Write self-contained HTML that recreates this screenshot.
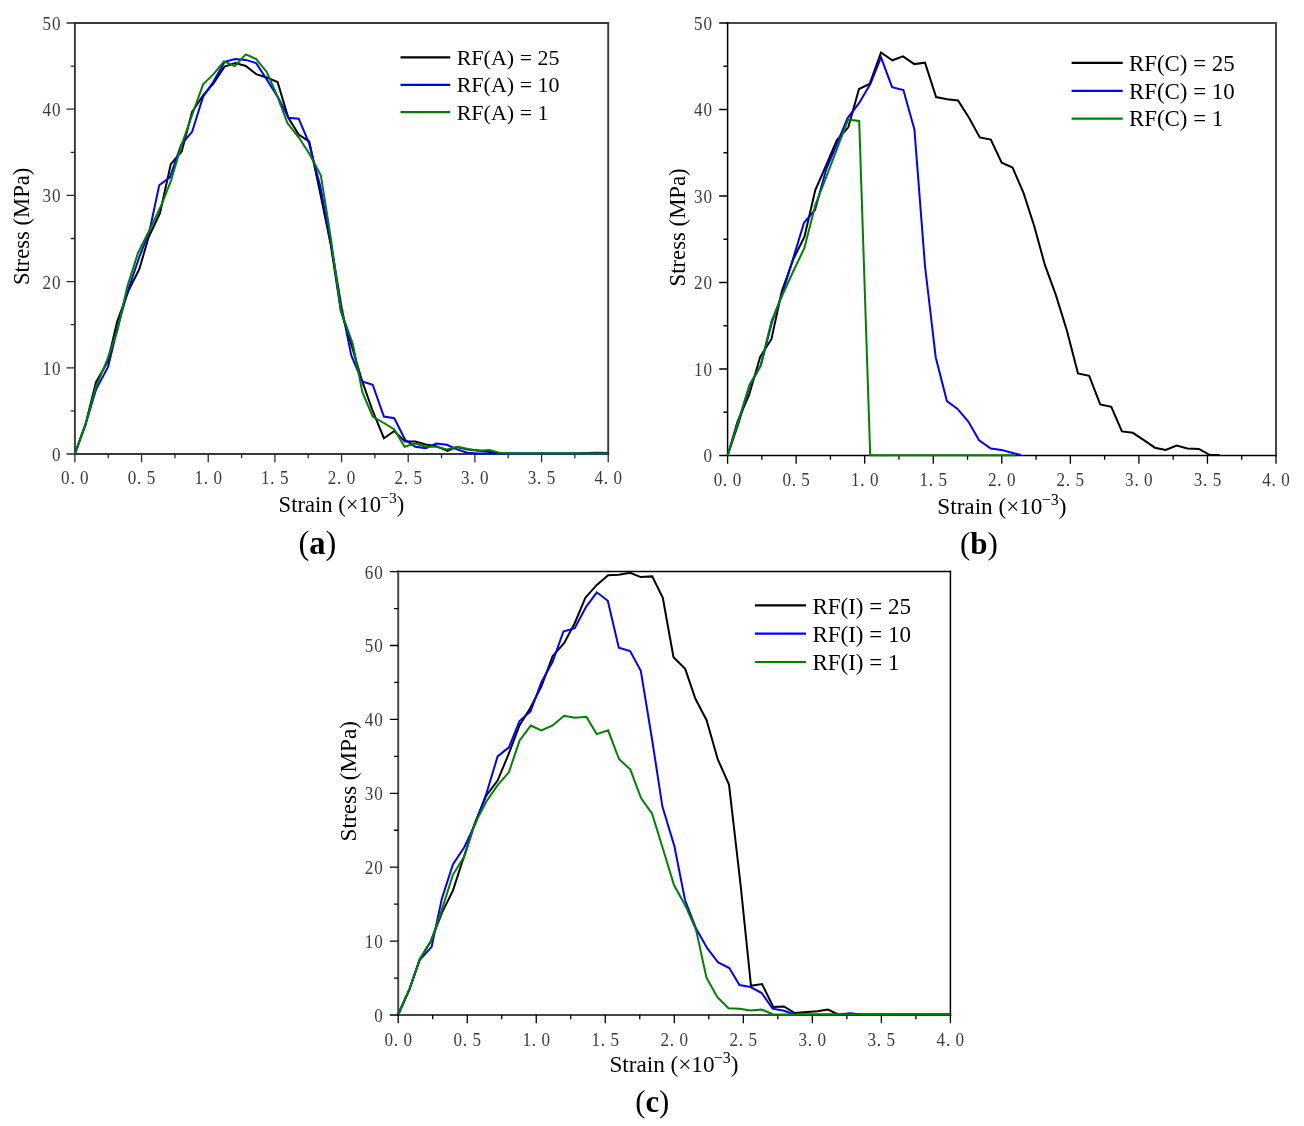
<!DOCTYPE html>
<html><head><meta charset="utf-8"><title>Stress-strain curves</title>
<style>
html,body{margin:0;padding:0;background:#fff;}
body{width:1304px;height:1126px;overflow:hidden;}
svg{display:block;will-change:transform;}
text{font-family:"Liberation Serif", serif;}
.tk{font-size:19px;fill:#3a3a3a;}
.ax{fill:#000;}
.cap{fill:#000;}
.lg{fill:#000;}
</style></head><body>
<svg width="1304" height="1126" viewBox="0 0 1304 1126">
<rect width="1304" height="1126" fill="#fff"/>
<line x1="74.9" y1="23" x2="608.2" y2="23" stroke="#383838" stroke-width="1.9" stroke-linecap="square"/>
<line x1="608.2" y1="23" x2="608.2" y2="454" stroke="#383838" stroke-width="1.9" stroke-linecap="square"/>
<line x1="74.9" y1="454" x2="608.2" y2="454" stroke="#383838" stroke-width="1.9" stroke-linecap="square"/>
<line x1="74.9" y1="23" x2="74.9" y2="454" stroke="#383838" stroke-width="1.9" stroke-linecap="square"/>
<path d="M74.9 454 v8.2 M108.23 454 v4.2 M141.56 454 v8.2 M174.89 454 v4.2 M208.23 454 v8.2 M241.56 454 v4.2 M274.89 454 v8.2 M308.22 454 v4.2 M341.55 454 v8.2 M374.88 454 v4.2 M408.21 454 v8.2 M441.54 454 v4.2 M474.88 454 v8.2 M508.21 454 v4.2 M541.54 454 v8.2 M574.87 454 v4.2 M608.2 454 v8.2 M74.9 454 h-8.4 M74.9 410.9 h-4.2 M74.9 367.8 h-8.4 M74.9 324.7 h-4.2 M74.9 281.6 h-8.4 M74.9 238.5 h-4.2 M74.9 195.4 h-8.4 M74.9 152.3 h-4.2 M74.9 109.2 h-8.4 M74.9 66.1 h-4.2 M74.9 23 h-8.4" fill="none" stroke="#2a2a2a" stroke-width="1.3"/>
<path d="M74.8 454 L85.4 424.7 L96 382.2 L107.7 361.7 L117.2 321.5 L128.6 290.5 L139.3 269.2 L148.6 237.2 L159.9 213.3 L170.8 164.1 L181.7 151.4 L192.1 112 L203.1 95.4 L213.5 83.3 L224.5 66.6 L235.4 63.1 L245.8 66 L256.2 74.1 L266.6 77.5 L277.6 82.1 L288.2 117.6 L298.7 134.6 L309.3 141.7 L320.2 193 L330.8 245 L340.8 310.4 L351.2 343.9 L361.5 379.1 L372.7 411 L383.9 438.2 L394.3 431 L405.1 441.6 L415.2 441.6 L425.8 444.4 L436.3 446.2 L447.4 450.8 L457 447.1 L467.6 449.4 L478.2 450.4 L488.3 451.7 L498.4 453.1 L509 453.6 L576 453.6 L587 453 L597.5 452.7 L608.2 453" fill="none" stroke="#000000" stroke-width="2.0" stroke-linejoin="miter" stroke-miterlimit="3"/>
<path d="M74.8 454 L85.4 425 L96 389.6 L108 366.9 L117.9 326.6 L128.1 290 L139.3 257 L149.5 231 L159.2 185.3 L169.9 177.3 L181.2 144.5 L192.1 131.8 L203.1 96.6 L213.5 81.6 L224.5 61.9 L235.4 59 L245.8 59.9 L256.2 63.1 L266.6 79.3 L277.6 96.6 L288.5 117.8 L298.7 118.7 L308.8 142.6 L320.2 186 L330.8 243 L341.6 307.2 L351.2 355.1 L362.3 381.5 L372.7 384.7 L383.9 416.6 L394.3 418.2 L405.1 439.8 L415.2 446.7 L425.8 448.1 L436.3 443.5 L446.9 444.8 L457 449.4 L467.2 452.7 L478.2 453.4 L608.2 453.6" fill="none" stroke="#0000ff" stroke-width="2.0" stroke-linejoin="miter" stroke-miterlimit="3"/>
<path d="M74.8 454 L85.4 424.7 L96 386.6 L107 360.3 L117.5 330 L127.3 286.5 L137.9 253.2 L149.9 229.2 L161.9 203.9 L171.2 180 L181.5 145 L192.1 115 L203.1 84.4 L213.5 74.1 L223.9 61.4 L234.8 66 L245.8 54.4 L256.2 59 L266.6 71.7 L277 95.4 L287.4 123.1 L298.7 137.3 L309.5 154 L320.9 175.5 L330.8 238 L340.8 310.4 L352.8 343.9 L362.3 391.9 L372.7 416.6 L383.9 423 L394.3 429.4 L404.6 446.7 L414.7 443.5 L425.8 446.7 L436.3 446.7 L446.9 449.4 L457.5 446.7 L468.1 449 L478.2 450.8 L489.2 449.9 L499.4 452.7 L509.5 453.6 L608.2 453.6" fill="none" stroke="#008000" stroke-width="2.0" stroke-linejoin="miter" stroke-miterlimit="3"/>
<text class="tk" transform="scale(0.9 1)" x="67.92 78.21 89.03" y="484">0.0</text>
<text class="tk" transform="scale(0.9 1)" x="141.99 152.28 163.1" y="484">0.5</text>
<text class="tk" transform="scale(0.9 1)" x="216.06 226.35 237.17" y="484">1.0</text>
<text class="tk" transform="scale(0.9 1)" x="290.13 300.42 311.24" y="484">1.5</text>
<text class="tk" transform="scale(0.9 1)" x="364.19 374.49 385.31" y="484">2.0</text>
<text class="tk" transform="scale(0.9 1)" x="438.26 448.56 459.38" y="484">2.5</text>
<text class="tk" transform="scale(0.9 1)" x="512.33 522.62 533.44" y="484">3.0</text>
<text class="tk" transform="scale(0.9 1)" x="586.4 596.69 607.51" y="484">3.5</text>
<text class="tk" transform="scale(0.9 1)" x="660.47 670.76 681.58" y="484">4.0</text>
<text class="tk" transform="scale(0.9 1)" x="57.75" y="461">0</text>
<text class="tk" transform="scale(0.9 1)" x="47.19 57.75" y="374.8">10</text>
<text class="tk" transform="scale(0.9 1)" x="47.19 57.75" y="288.6">20</text>
<text class="tk" transform="scale(0.9 1)" x="47.19 57.75" y="202.4">30</text>
<text class="tk" transform="scale(0.9 1)" x="47.19 57.75" y="116.2">40</text>
<text class="tk" transform="scale(0.9 1)" x="47.19 57.75" y="30">50</text>
<text class="ax" font-size="22.6" text-anchor="middle" transform="translate(29.3 226.4) rotate(-90)">Stress (MPa)</text>
<text class="ax" font-size="22.6" x="278.6" y="511.6">Strain (&#215;10<tspan font-size="15.59" dx="-0.8" dy="-8.59">&#8722;3</tspan><tspan dx="0" dy="8.59">)</tspan></text>
<text class="cap" font-size="34.6" transform="translate(298.5 554) scale(0.94 1)">(<tspan font-weight="bold">a</tspan>)</text>
<line x1="400.5" y1="57.3" x2="450.2" y2="57.3" stroke="#000000" stroke-width="2.2"/>
<text class="lg" font-size="22" x="456.7" y="64.7">RF(A) = 25</text>
<line x1="400.5" y1="84.9" x2="450.2" y2="84.9" stroke="#0000ff" stroke-width="2.2"/>
<text class="lg" font-size="22" x="456.7" y="92.4">RF(A) = 10</text>
<line x1="400.5" y1="112.2" x2="450.2" y2="112.2" stroke="#008000" stroke-width="2.2"/>
<text class="lg" font-size="22" x="456.7" y="119.7">RF(A) = 1</text>
<line x1="727.6" y1="23" x2="1276" y2="23" stroke="#484848" stroke-width="2" stroke-linecap="square"/>
<line x1="1276" y1="23" x2="1276" y2="455.5" stroke="#484848" stroke-width="2" stroke-linecap="square"/>
<line x1="727.6" y1="455.5" x2="1276" y2="455.5" stroke="#000" stroke-width="1.5" stroke-linecap="square"/>
<line x1="727.6" y1="23" x2="727.6" y2="455.5" stroke="#000" stroke-width="1.5" stroke-linecap="square"/>
<path d="M727.6 455.5 v8.2 M761.88 455.5 v4.2 M796.15 455.5 v8.2 M830.42 455.5 v4.2 M864.7 455.5 v8.2 M898.98 455.5 v4.2 M933.25 455.5 v8.2 M967.52 455.5 v4.2 M1001.8 455.5 v8.2 M1036.08 455.5 v4.2 M1070.35 455.5 v8.2 M1104.62 455.5 v4.2 M1138.9 455.5 v8.2 M1173.17 455.5 v4.2 M1207.45 455.5 v8.2 M1241.72 455.5 v4.2 M1276 455.5 v8.2 M727.6 455.5 h-8.4 M727.6 412.25 h-4.2 M727.6 369 h-8.4 M727.6 325.75 h-4.2 M727.6 282.5 h-8.4 M727.6 239.25 h-4.2 M727.6 196 h-8.4 M727.6 152.75 h-4.2 M727.6 109.5 h-8.4 M727.6 66.25 h-4.2 M727.6 23 h-8.4" fill="none" stroke="#000" stroke-width="1.3"/>
<path d="M727.6 455.5 L737.8 420.8 L749 395.2 L760.2 356.8 L771.4 339.2 L781.8 291.2 L793.4 259 L804.4 237 L815.3 190 L826.3 165 L836.9 140.1 L848.3 127.3 L859 89 L869.6 84 L881 52.5 L892.4 60.3 L903 56.3 L914.4 64.1 L925 62.7 L936.1 97.1 L947.1 99.3 L958 100.4 L969 117.7 L979.8 137.4 L990.8 139.6 L1001.7 162.7 L1012.6 167.6 L1023.6 193.2 L1034.5 227 L1044.8 264.7 L1055.9 295.1 L1066.8 330.2 L1078 373.4 L1089.2 375.8 L1100.2 404.4 L1111.3 406.8 L1121.9 431.4 L1132.8 432.8 L1143.9 440.2 L1154.9 447.7 L1165.7 449.9 L1176.6 445.6 L1187.5 448.4 L1198.9 448.9 L1209.5 454.8 L1220 455" fill="none" stroke="#000000" stroke-width="2.0" stroke-linejoin="miter" stroke-miterlimit="3"/>
<path d="M727.6 455.5 L738.6 423 L749.5 386 L761 364.8 L772 322 L782.7 292.3 L794.1 255.4 L804 222.7 L815 210 L826.3 169 L837.3 143 L847.6 118.1 L859 103.2 L870.3 84 L881 57.3 L892.1 87.1 L903.4 90 L914.4 129.5 L925 266 L935.7 357.2 L946.9 401.1 L957.6 408.9 L968.3 421.6 L979.1 440.2 L990.8 448.6 L1001.5 449.9 L1012.8 453 L1021 455" fill="none" stroke="#0000ff" stroke-width="2.0" stroke-linejoin="miter" stroke-miterlimit="3"/>
<path d="M727.6 455.5 L738.6 420 L749.5 385 L760.5 366 L771.5 321 L782.4 295 L793.4 271 L804.4 248 L815.3 205 L826.3 177 L837.3 148 L848.2 119.5 L859.2 121 L870.2 455.2 L1015.5 455.2" fill="none" stroke="#008000" stroke-width="2.0" stroke-linejoin="miter" stroke-miterlimit="3"/>
<text class="tk" transform="scale(0.9 1)" x="793.14 803.43 814.25" y="485.6">0.0</text>
<text class="tk" transform="scale(0.9 1)" x="869.31 879.6 890.42" y="485.6">0.5</text>
<text class="tk" transform="scale(0.9 1)" x="945.47 955.76 966.58" y="485.6">1.0</text>
<text class="tk" transform="scale(0.9 1)" x="1021.64 1031.93 1042.75" y="485.6">1.5</text>
<text class="tk" transform="scale(0.9 1)" x="1097.81 1108.1 1118.92" y="485.6">2.0</text>
<text class="tk" transform="scale(0.9 1)" x="1173.97 1184.26 1195.08" y="485.6">2.5</text>
<text class="tk" transform="scale(0.9 1)" x="1250.14 1260.43 1271.25" y="485.6">3.0</text>
<text class="tk" transform="scale(0.9 1)" x="1326.31 1336.6 1347.42" y="485.6">3.5</text>
<text class="tk" transform="scale(0.9 1)" x="1402.47 1412.76 1423.58" y="485.6">4.0</text>
<text class="tk" transform="scale(0.9 1)" x="781.75" y="462.5">0</text>
<text class="tk" transform="scale(0.9 1)" x="771.19 781.75" y="376">10</text>
<text class="tk" transform="scale(0.9 1)" x="771.19 781.75" y="289.5">20</text>
<text class="tk" transform="scale(0.9 1)" x="771.19 781.75" y="203">30</text>
<text class="tk" transform="scale(0.9 1)" x="771.19 781.75" y="116.5">40</text>
<text class="tk" transform="scale(0.9 1)" x="771.19 781.75" y="30">50</text>
<text class="ax" font-size="22.75" text-anchor="middle" transform="translate(684.8 227.4) rotate(-90)">Stress (MPa)</text>
<text class="ax" font-size="23.2" x="937.3" y="513.7">Strain (&#215;10<tspan font-size="16.01" dx="-0.8" dy="-8.82">&#8722;3</tspan><tspan dx="0" dy="8.82">)</tspan></text>
<text class="cap" font-size="31.7" transform="translate(960 554.4) scale(0.98 1)">(<tspan font-weight="bold">b</tspan>)</text>
<line x1="1071.6" y1="62.9" x2="1122.7" y2="62.9" stroke="#000000" stroke-width="2.2"/>
<text class="lg" font-size="22.9" x="1128.9" y="71">RF(C) = 25</text>
<line x1="1071.6" y1="90.8" x2="1122.7" y2="90.8" stroke="#0000ff" stroke-width="2.2"/>
<text class="lg" font-size="22.9" x="1128.9" y="99">RF(C) = 10</text>
<line x1="1071.6" y1="118.6" x2="1122.7" y2="118.6" stroke="#008000" stroke-width="2.2"/>
<text class="lg" font-size="22.9" x="1128.9" y="126.2">RF(C) = 1</text>
<line x1="398.2" y1="571.6" x2="950.4" y2="571.6" stroke="#000" stroke-width="1.5" stroke-linecap="square"/>
<line x1="950.4" y1="571.6" x2="950.4" y2="1015" stroke="#000" stroke-width="1.5" stroke-linecap="square"/>
<line x1="398.2" y1="1015" x2="950.4" y2="1015" stroke="#484848" stroke-width="2" stroke-linecap="square"/>
<line x1="398.2" y1="571.6" x2="398.2" y2="1015" stroke="#484848" stroke-width="2" stroke-linecap="square"/>
<path d="M398.2 1015 v8.2 M432.71 1015 v4.2 M467.23 1015 v8.2 M501.74 1015 v4.2 M536.25 1015 v8.2 M570.76 1015 v4.2 M605.27 1015 v8.2 M639.79 1015 v4.2 M674.3 1015 v8.2 M708.81 1015 v4.2 M743.33 1015 v8.2 M777.84 1015 v4.2 M812.35 1015 v8.2 M846.86 1015 v4.2 M881.38 1015 v8.2 M915.89 1015 v4.2 M950.4 1015 v8.2 M398.2 1015 h-8.4 M398.2 978.05 h-4.2 M398.2 941.1 h-8.4 M398.2 904.15 h-4.2 M398.2 867.2 h-8.4 M398.2 830.25 h-4.2 M398.2 793.3 h-8.4 M398.2 756.35 h-4.2 M398.2 719.4 h-8.4 M398.2 682.45 h-4.2 M398.2 645.5 h-8.4 M398.2 608.55 h-4.2 M398.2 571.6 h-8.4" fill="none" stroke="#000" stroke-width="1.3"/>
<path d="M398.4 1014 L409.4 989.5 L419.7 959.4 L430.8 941.2 L441.9 912.8 L452.9 890.6 L464.5 855 L474.9 822.9 L486.2 795.7 L497.6 780.6 L508.9 753.4 L519.5 725.5 L530 708.5 L541.4 686.4 L552.7 655.9 L564.1 643.1 L574.7 623.2 L585.4 597.7 L596.8 584.9 L608.1 575.2 L618.8 574.7 L630.1 572.8 L640.8 577.1 L652.2 576.4 L662.8 597.7 L673.5 657.3 L685.2 668.9 L695.4 698.8 L706.6 720.2 L717.8 759.4 L729 784.6 L740.6 885 L751 985.8 L762 984 L773.3 1007 L784 1006.5 L794.8 1013 L806.6 1011.9 L817.3 1011.3 L828 1009.5 L838.2 1014.4 L950.4 1014.6" fill="none" stroke="#000000" stroke-width="2.0" stroke-linejoin="miter" stroke-miterlimit="3"/>
<path d="M398.4 1014 L409.4 989.5 L419.7 960 L431.6 946.8 L441.9 898.5 L452.9 864.5 L464.4 847 L475.7 822.9 L486.2 794.2 L497.6 756.4 L508.9 747.4 L519.5 721 L530.5 711.5 L541.4 682.2 L552.7 661.6 L563.4 631.5 L574.7 628.2 L586.1 606.9 L596.8 592.3 L607.8 600.8 L618.8 647.7 L630.1 651 L640.8 670.8 L652 739 L662.4 806.6 L674.4 846.3 L685 900 L696.1 928.5 L707.2 948.2 L718.2 962.5 L729.3 968 L739.5 985 L750.6 987 L761.7 993 L772.7 1008.7 L784 1010.8 L794.8 1014.4 L839.6 1014.6 L850 1013.3 L860.5 1014.6 L950.4 1014.6" fill="none" stroke="#0000ff" stroke-width="2.0" stroke-linejoin="miter" stroke-miterlimit="3"/>
<path d="M398.4 1014 L409.4 989.5 L419.7 959.4 L431.6 939.7 L441.9 909.6 L452.9 874.8 L464.5 856 L474.9 823.5 L486.2 801.7 L497.6 785.1 L508.9 772.3 L519.5 740.6 L530.8 725.5 L541.3 730.5 L552.7 725.5 L564 715.7 L575 717.8 L586.3 716.8 L596.7 734.1 L608.1 730.3 L619 759 L630.4 769.6 L641 798 L652.1 813.7 L663.3 850 L674 885 L685.8 906.4 L696.1 930.1 L706.4 977.5 L717.4 997.2 L728.5 1008.3 L739.5 1008.7 L750.6 1010.6 L761.7 1009.5 L772.7 1014.2 L950.4 1014.6" fill="none" stroke="#008000" stroke-width="2.0" stroke-linejoin="miter" stroke-miterlimit="3"/>
<text class="tk" transform="scale(0.9 1)" x="427.14 437.43 448.25" y="1045.6">0.0</text>
<text class="tk" transform="scale(0.9 1)" x="503.83 514.12 524.94" y="1045.6">0.5</text>
<text class="tk" transform="scale(0.9 1)" x="580.53 590.82 601.64" y="1045.6">1.0</text>
<text class="tk" transform="scale(0.9 1)" x="657.22 667.51 678.33" y="1045.6">1.5</text>
<text class="tk" transform="scale(0.9 1)" x="733.92 744.21 755.03" y="1045.6">2.0</text>
<text class="tk" transform="scale(0.9 1)" x="810.61 820.9 831.72" y="1045.6">2.5</text>
<text class="tk" transform="scale(0.9 1)" x="887.31 897.6 908.42" y="1045.6">3.0</text>
<text class="tk" transform="scale(0.9 1)" x="964 974.29 985.11" y="1045.6">3.5</text>
<text class="tk" transform="scale(0.9 1)" x="1040.69 1050.99 1061.81" y="1045.6">4.0</text>
<text class="tk" transform="scale(0.9 1)" x="415.75" y="1022">0</text>
<text class="tk" transform="scale(0.9 1)" x="405.19 415.75" y="948.1">10</text>
<text class="tk" transform="scale(0.9 1)" x="405.19 415.75" y="874.2">20</text>
<text class="tk" transform="scale(0.9 1)" x="405.19 415.75" y="800.3">30</text>
<text class="tk" transform="scale(0.9 1)" x="405.19 415.75" y="726.4">40</text>
<text class="tk" transform="scale(0.9 1)" x="405.19 415.75" y="652.5">50</text>
<text class="tk" transform="scale(0.9 1)" x="405.19 415.75" y="578.6">60</text>
<text class="ax" font-size="23.2" text-anchor="middle" transform="translate(356 781.2) rotate(-90)">Stress (MPa)</text>
<text class="ax" font-size="23.2" x="609.4" y="1071.7">Strain (&#215;10<tspan font-size="16.01" dx="-0.8" dy="-8.82">&#8722;3</tspan><tspan dx="0" dy="8.82">)</tspan></text>
<text class="cap" font-size="31.7" transform="translate(635.2 1112.3) scale(0.97 1)">(<tspan font-weight="bold">c</tspan>)</text>
<line x1="754.9" y1="605.4" x2="806" y2="605.4" stroke="#000000" stroke-width="2.2"/>
<text class="lg" font-size="23" x="812.4" y="613.6">RF(I) = 25</text>
<line x1="754.9" y1="633.7" x2="806" y2="633.7" stroke="#0000ff" stroke-width="2.2"/>
<text class="lg" font-size="23" x="812.4" y="641.8">RF(I) = 10</text>
<line x1="754.9" y1="662" x2="806" y2="662" stroke="#008000" stroke-width="2.2"/>
<text class="lg" font-size="23" x="812.4" y="669.8">RF(I) = 1</text>
</svg>
</body></html>
